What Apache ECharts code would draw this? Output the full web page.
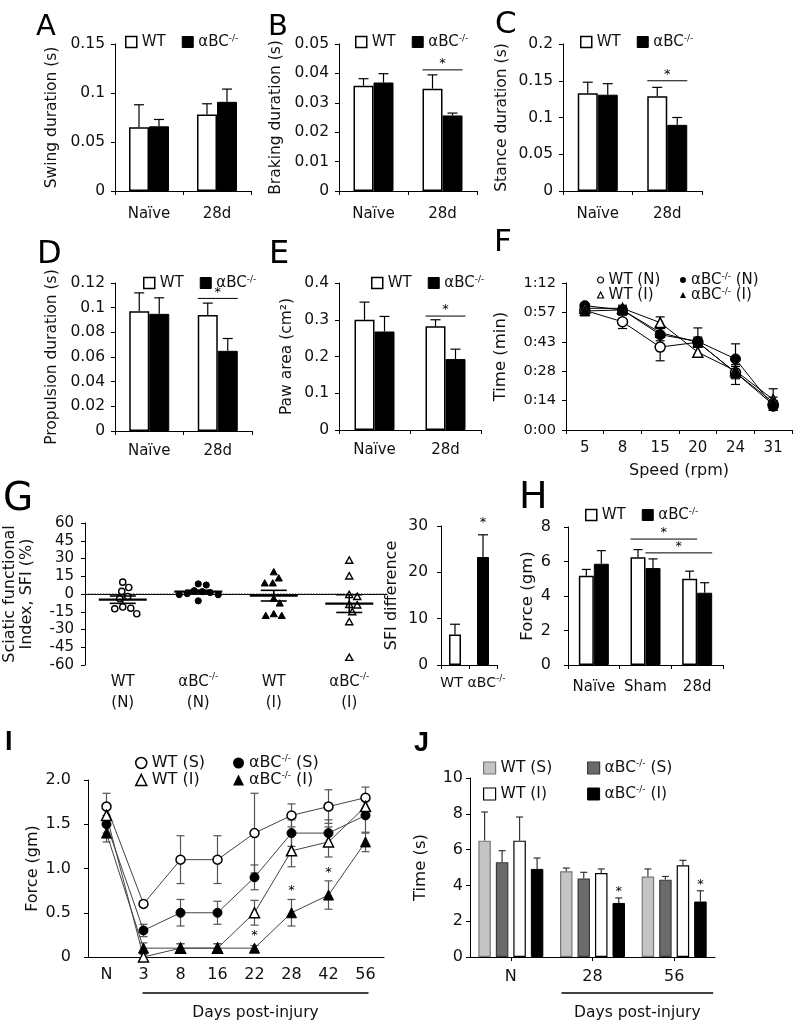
<!DOCTYPE html>
<html><head><meta charset="utf-8">
<script src="https://cdn.jsdelivr.net/npm/echarts@6/dist/echarts.min.js"></script>
<style>html,body{margin:0;padding:0;background:#fff}#c{width:793px;height:1024px}</style>
</head><body><div id="c"></div>
<script>
// ================= DATA =================
const gaitCats = ['Naïve', '28d'];
// A  swing duration (s)
const swingWT = [0.065, 0.078], swingWTErr = [0.023, 0.011];
const swingKO = [0.066, 0.091], swingKOErr = [0.007, 0.013];
const swingTicks = ['0', '0.05', '0.1', '0.15'];
// B  braking duration (s)
const brakeWT = [0.0358, 0.0348], brakeWTErr = [0.0024, 0.0047];
const brakeKO = [0.0369, 0.0257], brakeKOErr = [0.0030, 0.0008];
const brakeSig = [[1, 0, 1, 1, 0.0412]];
const brakeTicks = ['0', '0.01', '0.02', '0.03', '0.04', '0.05'];
// C  stance duration (s)
const stanceWT = [0.133, 0.129], stanceWTErr = [0.015, 0.012];
const stanceKO = [0.131, 0.090], stanceKOErr = [0.015, 0.010];
const stanceSig = [[1, 0, 1, 1, 0.150]];
const stanceTicks = ['0', '0.05', '0.1', '0.15', '0.2'];
// D  propulsion duration (s)
const propWT = [0.097, 0.094], propWTErr = [0.015, 0.0097];
const propKO = [0.095, 0.065], propKOErr = [0.013, 0.010];
const propSig = [[1, 0, 1, 1, 0.1075]];
const propTicks = ['0', '0.02', '0.04', '0.06', '0.08', '0.1', '0.12'];
// E  paw area (cm2)
const pawWT = [0.300, 0.282], pawWTErr = [0.048, 0.018];
const pawKO = [0.268, 0.193], pawKOErr = [0.041, 0.027];
const pawSig = [[1, 0, 1, 1, 0.31]];
const pawTicks = ['0', '0.1', '0.2', '0.3', '0.4'];
// F  rotarod time (seconds) vs speed
const speedCats = ['5', '8', '15', '20', '24', '31'];
const rodWTN = [58.6, 53.0, 40.6, 43.0, 28.1, 12.4], rodWTNErr = [1.5, 3.3, 6.7, 2.0, 3.0, 2.0];
const rodKON = [60.9, 58.8, 46.7, 43.4, 34.8, 11.6], rodKONErr = [1.0, 1.5, 3.0, 6.6, 7.4, 2.0];
const rodWTI = [59.6, 59.6, 52.6, 38.1, 29.0, 14.9], rodWTIErr = [1.0, 1.5, 2.8, 2.5, 3.0, 5.3];
const rodKOI = [58.3, 58.8, 47.7, 43.0, 28.1, 13.6], rodKOIErr = [1.0, 1.5, 2.0, 2.5, 5.8, 2.5];
const timeTicks = ['0:00', '0:14', '0:28', '0:43', '0:57', '1:12'];
// G  sciatic functional index
const sfiCats = ['WT\n(N)', 'αBC-/-\n(N)', 'WT\n(I)', 'αBC-/-\n(I)'];
const sfiWTN = [10.0, 5.5, 2.2, -2.2, -4.0, -12.0, -16.7, -12.5, -11.0];
const sfiKON = [8.5, 7.6, 2.0, 2.8, 1.2, 0.3, -0.5, -0.6, -5.8];
const sfiWTI = [18.4, 13.2, 9.0, 9.0, -4.0, -8.0, -17.0, -18.5, -18.5];
const sfiKOI = [28.2, 14.9, -0.8, -2.4, -9.2, -9.6, -15.3, -23.7, -53.9];
const sfiMean = [-4.8, 2.0, -1.4, -8.1];
const sfiSem = [3.1, 1.2, 4.5, 7.5];
const sfiTicks = ['-60', '-45', '-30', '-15', '0', '15', '30', '45', '60'];
const sfiDiffCats = ['WT', 'αBC-/-'];
const sfiDiff = [6.6, 23.3], sfiDiffErr = [2.2, 4.8];
const sfiDiffStar = [[1, 0, 28.1]];
const sfiDiffTicks = ['0', '10', '20', '30'];
// H  force (gm)
const forceCats = ['Naïve', 'Sham', '28d'];
const forceWT = [5.17, 6.25, 5.0], forceWTErr = [0.37, 0.44, 0.44];
const forceKO = [5.87, 5.62, 4.19], forceKOErr = [0.76, 0.53, 0.58];
const forceSig = [[1, 0, 2, 0, 7.3], [1, 1, 2, 1, 6.5]];
const forceTicks = ['0', '2', '4', '6', '8'];
// I  von Frey force (gm) over days
const dayCats = ['N', '3', '8', '16', '22', '28', '42', '56'];
const vfWTS = [1.7, 0.6, 1.1, 1.1, 1.4, 1.6, 1.7, 1.8], vfWTSErr = [0.15, 0.03, 0.27, 0.27, 0.45, 0.13, 0.19, 0.12];
const vfKOS = [1.5, 0.3, 0.5, 0.5, 0.9, 1.4, 1.4, 1.6], vfKOSErr = [0.1, 0.07, 0.15, 0.13, 0.14, 0.15, 0.15, 0.2];
const vfWTI = [1.6, 0.0, 0.1, 0.1, 0.5, 1.2, 1.3, 1.7], vfWTIErr = [0.1, 0.03, 0.05, 0.05, 0.14, 0.18, 0.17, 0.1];
const vfKOI = [1.4, 0.1, 0.1, 0.1, 0.1, 0.5, 0.7, 1.3], vfKOIErr = [0.1, 0.06, 0.05, 0.05, 0.03, 0.15, 0.16, 0.11];
const vfStars = [[4, 0.28], [5, 0.78], [6, 0.99]];
const vfTicks = ['0', '0.5', '1.0', '1.5', '2.0'];
const vfInjury = ['3', '56'];
// J  time (s)
const grpCats = ['N', '28', '56'];
const ttWTS = [6.5, 4.79, 4.5], ttWTSErr = [1.6, 0.18, 0.42];
const ttKOS = [5.3, 4.38, 4.32], ttKOSErr = [0.64, 0.35, 0.18];
const ttWTI = [6.5, 4.69, 5.12], ttWTIErr = [1.32, 0.23, 0.28];
const ttKOI = [4.92, 3.02, 3.1], ttKOIErr = [0.61, 0.28, 0.6];
const ttStars = [[1, 3, 3.3], [2, 3, 3.7]];
const ttTicks = ['0', '2', '4', '6', '8', '10'];
const ttInjury = ['28', '56'];

// ================= HELPERS =================
const FONT = 'DejaVu Sans';
const INK = '#111';
const SUP = { s: { fontSize: 9, verticalAlign: 'top', lineHeight: 9, fontFamily: FONT } };
const fmtKO = s => String(s).split('-/-').join('{s|-/-}');

function yAx(gi, min, max, interval, ticks, name, nameGap, o) {
  o = o || {};
  const fs = o.fs || 15.5;
  return {
    type: 'value', gridIndex: gi, min, max, interval,
    axisLine: { show: true, lineStyle: { color: '#000', width: 1 } },
    axisTick: { show: true, length: 4, lineStyle: { color: '#000', width: 1 } },
    splitLine: { show: false },
    axisLabel: {
      fontFamily: FONT, fontSize: fs, color: INK, margin: o.margin || 9,
      formatter: (v, i) => (ticks[i] !== undefined ? ticks[i] : String(v))
    },
    name, nameLocation: 'middle', nameGap, nameRotate: 90,
    nameTextStyle: { fontFamily: FONT, fontSize: o.nfs || 15.5, color: INK, lineHeight: o.nlh || 18, align: 'center' }
  };
}
function xAx(gi, data, o) {
  o = o || {};
  return {
    type: 'category', gridIndex: gi, data,
    axisLine: { show: true, lineStyle: { color: '#000', width: 1 } },
    axisTick: o.tick === false ? { show: false } : { show: true, length: 4, alignWithLabel: !!o.align, lineStyle: { color: '#000' } },
    splitLine: { show: false },
    axisLabel: { interval: 0, fontFamily: FONT, fontSize: o.fs || 15, color: INK, margin: o.margin || 12,
      lineHeight: o.lh || 18, formatter: o.formatter || fmtKO, rich: Object.assign({ p: { width: 7 } }, SUP) },
    name: o.name || '', nameLocation: 'middle', nameGap: o.nameGap || 30,
    nameTextStyle: { fontFamily: FONT, fontSize: o.nfs || 16, color: INK }
  };
}
function errSeries(gi, vals, errs, offset, cap, color, both) {
  return {
    type: 'custom', xAxisIndex: gi, yAxisIndex: gi, silent: true, clip: false, z: 4,
    encode: { x: 0, y: 1 },
    data: vals.map((v, i) => [i, both ? v - errs[i] : v, v + errs[i]]),
    renderItem: (p, api) => {
      const a = api.coord([api.value(0), api.value(1)]);
      const b = api.coord([api.value(0), api.value(2)]);
      const x = a[0] + offset;
      const st = () => ({ stroke: color, lineWidth: 1.2 });
      const ch = [
        { type: 'line', shape: { x1: x, y1: a[1], x2: x, y2: b[1] }, style: st() },
        { type: 'line', shape: { x1: x - cap / 2, y1: b[1], x2: x + cap / 2, y2: b[1] }, style: st() }
      ];
      if (both) ch.push({ type: 'line', shape: { x1: x - cap / 2, y1: a[1], x2: x + cap / 2, y2: a[1] }, style: st() });
      return { type: 'group', children: ch };
    }
  };
}
function sigSeries(gi, data, offsets, bw) {
  return {
    type: 'custom', xAxisIndex: gi, yAxisIndex: gi, silent: true, clip: false, z: 6,
    encode: { x: 0, y: 4 }, data,
    renderItem: (p, api) => {
      const y = api.value(4);
      const a = api.coord([api.value(0), y]);
      const b = api.coord([api.value(2), y]);
      const x1 = a[0] + offsets[api.value(1)] - bw / 2;
      const x2 = b[0] + offsets[api.value(3)] + bw / 2;
      return { type: 'group', children: [
        { type: 'line', shape: { x1, y1: a[1], x2, y2: a[1] }, style: { stroke: '#000', lineWidth: 1 } },
        { type: 'text', x: (x1 + x2) / 2, y: a[1] - 6, style: { text: '*', fontFamily: FONT, fontSize: 13, fill: '#000', align: 'center', verticalAlign: 'middle' } }
      ] };
    }
  };
}
function starSeries(gi, data, offsets, gap) {
  return {
    type: 'custom', xAxisIndex: gi, yAxisIndex: gi, silent: true, clip: false, z: 6,
    encode: { x: 0, y: 2 }, data,
    renderItem: (p, api) => {
      const c = api.coord([api.value(0), api.value(2)]);
      return { type: 'text', x: c[0] + offsets[api.value(1)], y: c[1] - gap,
        style: { text: '*', fontFamily: FONT, fontSize: 13, fill: '#000', align: 'center', verticalAlign: 'middle' } };
    }
  };
}
function barPair(gi, wt, wtErr, ko, koErr, bw, cap) {
  return [
    { type: 'bar', name: 'WT', xAxisIndex: gi, yAxisIndex: gi, data: wt, barWidth: bw, barGap: '0%',
      itemStyle: { color: '#fff', borderColor: '#000', borderWidth: 1.5 } },
    { type: 'bar', name: 'αBC-/-', xAxisIndex: gi, yAxisIndex: gi, data: ko, barWidth: bw, barGap: '0%',
      itemStyle: { color: '#000', borderColor: '#000', borderWidth: 1 } },
    errSeries(gi, wt, wtErr, -bw / 2, cap, '#000', false),
    errSeries(gi, ko, koErr, bw / 2, cap, '#000', false)
  ];
}
function koLegend(left, top) {
  return {
    left, top, orient: 'horizontal', itemWidth: 11, itemHeight: 11, itemGap: 16, selectedMode: false, padding: 0,
    data: [
      { name: 'WT', icon: 'rect', itemStyle: { color: '#fff', borderColor: '#000', borderWidth: 1.5 } },
      { name: 'αBC-/-', icon: 'rect', itemStyle: { color: '#000', borderColor: '#000', borderWidth: 1 } }
    ],
    textStyle: { fontFamily: FONT, fontSize: 15, color: INK, lineHeight: 16, rich: SUP },
    formatter: fmtKO
  };
}
function colLegend(left, top, items, size, gap, fs, lh) {
  return {
    left, top, orient: 'vertical', itemWidth: size, itemHeight: size, itemGap: gap, selectedMode: false, padding: 0,
    data: items, textStyle: { fontFamily: FONT, fontSize: fs, color: INK, lineHeight: lh, rich: SUP },
    formatter: fmtKO
  };
}
const openSt = { color: '#fff', borderColor: '#000', borderWidth: 1.5 };
const fillSt = { color: '#000', borderColor: '#000', borderWidth: 1 };
function lineSeries(gi, name, vals, symbol, size, open, lineColor) {
  return { type: 'line', name, xAxisIndex: gi, yAxisIndex: gi, data: vals, symbol, symbolSize: size,
    showAllSymbol: true, clip: false, z: 5,
    lineStyle: { color: lineColor, width: 1 }, itemStyle: open ? openSt : fillSt };
}
function swarmOffsets(vals, pxPerUnit, d) {
  const order = vals.map((v, i) => i).sort((a, b) => vals[b] - vals[a]);
  const placed = [], off = [];
  order.forEach(i => {
    const y = vals[i] * pxPerUnit;
    for (let k = 0; k < 400; k++) {
      const dx = (k % 2 ? 1 : -1) * Math.ceil(k / 2);
      if (placed.every(q => (q[0] - dx) * (q[0] - dx) + (q[1] - y) * (q[1] - y) >= d * d)) {
        off[i] = dx; placed.push([dx, y]); break;
      }
    }
  });
  return off;
}
function dotSeries(gi, group, vals, shape, filled) {
  const off = swarmOffsets(vals, 142 / 120, 7.5);
  return {
    type: 'custom', xAxisIndex: gi, yAxisIndex: gi, silent: true, clip: false, z: 5,
    encode: { x: 0, y: 1 },
    data: vals.map((v, i) => [group, v, off[i]]),
    renderItem: (p, api) => {
      const c = api.coord([api.value(0), api.value(1)]);
      const x = c[0] + api.value(2), y = c[1], r = 3.1;
      const style = filled ? { fill: '#000', stroke: '#000', lineWidth: 1 } : { fill: '#fff', stroke: '#000', lineWidth: 1.4 };
      if (shape === 'circle') return { type: 'circle', shape: { cx: x, cy: y, r }, style };
      return { type: 'polygon', shape: { points: [[x, y - r * 1.2], [x + r * 1.15, y + r * 0.85], [x - r * 1.15, y + r * 0.85]] }, style };
    }
  };
}
function daysSeries(gi, cats, range, extL, extR) {
  return {
    type: 'custom', xAxisIndex: gi, yAxisIndex: gi, silent: true, clip: false, z: 6,
    encode: { x: [0, 1] },
    data: [[cats.indexOf(range[0]), cats.indexOf(range[1])]],
    renderItem: (p, api) => {
      const a = api.coord([api.value(0), 0]), b = api.coord([api.value(1), 0]);
      const y = a[1] + 36, x1 = a[0] - extL, x2 = b[0] + extR;
      return { type: 'group', children: [
        { type: 'line', shape: { x1, y1: y, x2, y2: y }, style: { stroke: '#000', lineWidth: 1.5 } },
        { type: 'text', x: (x1 + x2) / 2, y: y + 20, style: { text: 'Days post-injury', fontFamily: FONT, fontSize: 15.5, fill: INK, align: 'center', verticalAlign: 'middle' } }
      ] };
    }
  };
}

// ================= LAYOUT =================
const grids = [
  { left: 115, top: 44, width: 136, height: 147 },   // 0 A
  { left: 339, top: 44, width: 138, height: 147 },   // 1 B
  { left: 563, top: 44, width: 139, height: 147 },   // 2 C
  { left: 115, top: 283, width: 137, height: 148 },  // 3 D
  { left: 339, top: 283, width: 142, height: 147 },  // 4 E
  { left: 566, top: 283, width: 226, height: 147 },  // 5 F
  { left: 85, top: 523, width: 302, height: 142 },   // 6 G scatter
  { left: 441, top: 526, width: 56, height: 139 },   // 7 G bar
  { left: 568, top: 527, width: 155, height: 138 },  // 8 H
  { left: 88, top: 780, width: 296, height: 177 },   // 9 I
  { left: 470, top: 778, width: 245, height: 179 }   // 10 J
].map(g => Object.assign({ outerBoundsMode: 'none', containLabel: false }, g));

const letters = [
  ['A', 36, 13, 29, 'normal'], ['B', 268, 13, 29, 'normal'], ['C', 495, 9, 31, 'normal'],
  ['D', 37, 239, 32, 'normal'], ['E', 269, 239, 32, 'normal'], ['F', 494, 227, 31, 'normal'],
  ['G', 3, 480, 39, 'normal'], ['H', 519, 479, 38, 'normal'],
  ['I', 5, 729, 27, 'bold'], ['J', 414, 730, 27, 'bold']
];

const xAxes = [
  xAx(0, gaitCats, { margin: 14 }),
  xAx(1, gaitCats, { margin: 14 }),
  xAx(2, gaitCats, { margin: 14 }),
  xAx(3, gaitCats, { margin: 11 }),
  xAx(4, gaitCats, { margin: 11 }),
  xAx(5, speedCats, { margin: 9, name: 'Speed (rpm)', nameGap: 33, nfs: 16 }),
  xAx(6, sfiCats, { margin: 7, tick: false, lh: 21 }),
  xAx(7, sfiDiffCats, { margin: 9, fs: 14, formatter: (v, i) => (i === 0 ? v + '{p| }' : '{p| }' + fmtKO(v)) }),
  xAx(8, forceCats, { margin: 13 }),
  xAx(9, dayCats, { margin: 9, tick: false, fs: 16 }),
  xAx(10, grpCats, { margin: 11, fs: 16, align: true })
];
const yAxes = [
  yAx(0, 0, 0.15, 0.05, swingTicks, 'Swing duration (s)', 54, { margin: 10 }),
  yAx(1, 0, 0.05, 0.01, brakeTicks, 'Braking duration (s)', 54, { margin: 10 }),
  yAx(2, 0, 0.2, 0.05, stanceTicks, 'Stance duration (s)', 52, { margin: 10 }),
  yAx(3, 0, 0.12, 0.02, propTicks, 'Propulsion duration (s)', 54, { margin: 10 }),
  yAx(4, 0, 0.4, 0.1, pawTicks, 'Paw area (cm²)', 43, { margin: 10 }),
  yAx(5, 0, 72, 14.4, timeTicks, 'Time (min)', 56, { margin: 10, fs: 14.5, nfs: 16.5 }),
  yAx(6, -60, 60, 15, sfiTicks, 'Sciatic functional\nIndex, SFI (%)', 50, { margin: 11, fs: 15, nfs: 16, nlh: 17 }),
  yAx(7, 0, 30, 10, sfiDiffTicks, 'SFI difference', 40, { margin: 13, nfs: 16 }),
  yAx(8, 0, 8, 2, forceTicks, 'Force (gm)', 28, { margin: 17, fs: 16, nfs: 16.5 }),
  yAx(9, 0, 2, 0.5, vfTicks, 'Force (gm)', 45, { margin: 17, fs: 16, nfs: 16 }),
  yAx(10, 0, 10, 2, ttTicks, 'Time (s)', 40, { margin: 7, fs: 16, nfs: 16.5 })
];

const legends = [
  koLegend(125, 34), koLegend(355, 34), koLegend(580, 34),
  koLegend(143, 275), koLegend(371, 275), koLegend(585, 507),
  colLegend(597, 272.5, [
    { name: 'WT (N)', icon: 'circle', itemStyle: { color: '#fff', borderColor: '#000', borderWidth: 1.2 } },
    { name: 'WT (I)', icon: 'triangle', itemStyle: { color: '#fff', borderColor: '#000', borderWidth: 1.2 } }
  ], 6, 0, 15, 15),
  colLegend(680, 272.5, [
    { name: 'αBC-/- (N)', icon: 'circle', itemStyle: { color: '#000', borderWidth: 0 } },
    { name: 'αBC-/- (I)', icon: 'triangle', itemStyle: { color: '#000', borderWidth: 0 } }
  ], 6, 0, 15, 15),
  colLegend(135, 754.5, [
    { name: 'WT (S)', icon: 'circle', itemStyle: { color: '#fff', borderColor: '#000', borderWidth: 1.5 } },
    { name: 'WT (I)', icon: 'triangle', itemStyle: { color: '#fff', borderColor: '#000', borderWidth: 1.5 } }
  ], 11, 0, 16, 17),
  colLegend(233, 754.5, [
    { name: 'αBC-/- (S)', icon: 'circle', itemStyle: { color: '#000', borderWidth: 0 } },
    { name: 'αBC-/- (I)', icon: 'triangle', itemStyle: { color: '#000', borderWidth: 0 } }
  ], 11, 0, 16, 17),
  colLegend(483, 759.5, [
    { name: 'WT (S)', icon: 'rect', itemStyle: { color: '#c4c4c4', borderColor: '#777', borderWidth: 1.2 } },
    { name: 'WT (I)', icon: 'rect', itemStyle: { color: '#fff', borderColor: '#000', borderWidth: 1.2 } }
  ], 12, 9, 15.5, 17),
  colLegend(587, 759.5, [
    { name: 'αBC-/- (S)', icon: 'rect', itemStyle: { color: '#6b6b6b', borderColor: '#3a3a3a', borderWidth: 1.2 } },
    { name: 'αBC-/- (I)', icon: 'rect', itemStyle: { color: '#000', borderColor: '#000', borderWidth: 1 } }
  ], 12, 9, 15.5, 17)
];

// ================= SERIES =================
const series = [];
series.push(...barPair(0, swingWT, swingWTErr, swingKO, swingKOErr, 20, 10));
series.push(...barPair(1, brakeWT, brakeWTErr, brakeKO, brakeKOErr, 20, 10), sigSeries(1, brakeSig, [-10, 10], 20));
series.push(...barPair(2, stanceWT, stanceWTErr, stanceKO, stanceKOErr, 20, 10), sigSeries(2, stanceSig, [-10, 10], 20));
series.push(...barPair(3, propWT, propWTErr, propKO, propKOErr, 20, 10), sigSeries(3, propSig, [-10, 10], 20));
series.push(...barPair(4, pawWT, pawWTErr, pawKO, pawKOErr, 20, 10), sigSeries(4, pawSig, [-10, 10], 20));
// F
[[rodWTN, rodWTNErr], [rodKON, rodKONErr], [rodWTI, rodWTIErr], [rodKOI, rodKOIErr]].forEach(d =>
  series.push(errSeries(5, d[0], d[1], 0, 9, '#000', true)));
series.push(
  lineSeries(5, 'WT (N)', rodWTN, 'circle', 10, true, '#000'),
  lineSeries(5, 'αBC-/- (N)', rodKON, 'circle', 10, false, '#000'),
  lineSeries(5, 'WT (I)', rodWTI, 'triangle', 10, true, '#000'),
  lineSeries(5, 'αBC-/- (I)', rodKOI, 'triangle', 10, false, '#000')
);
// G scatter
series.push({
  type: 'custom', xAxisIndex: 6, yAxisIndex: 6, silent: true, clip: false, z: 2, encode: { x: 0, y: 1 },
  data: [[0, 0]],
  renderItem: (p, api) => {
    const cs = p.coordSys, y = api.coord([0, 0])[1];
    return { type: 'line', shape: { x1: cs.x, y1: y, x2: cs.x + cs.width, y2: y },
      style: { stroke: '#333', lineWidth: 1, lineDash: [1.5, 1.5] } };
  }
});
series.push(
  dotSeries(6, 0, sfiWTN, 'circle', false),
  dotSeries(6, 1, sfiKON, 'circle', true),
  dotSeries(6, 2, sfiWTI, 'triangle', true),
  dotSeries(6, 3, sfiKOI, 'triangle', false)
);
series.push({
  type: 'custom', xAxisIndex: 6, yAxisIndex: 6, silent: true, clip: false, z: 6, encode: { x: 0, y: 1 },
  data: sfiMean.map((m, i) => [i, m, sfiSem[i]]),
  renderItem: (p, api) => {
    const g = api.value(0), m = api.value(1), s = api.value(2);
    const c = api.coord([g, m]), t = api.coord([g, m + s]), b = api.coord([g, m - s]);
    const x = c[0];
    return { type: 'group', children: [
      { type: 'line', shape: { x1: x - 24, y1: c[1], x2: x + 24, y2: c[1] }, style: { stroke: '#000', lineWidth: 2.2 } },
      { type: 'line', shape: { x1: x - 13, y1: t[1], x2: x + 13, y2: t[1] }, style: { stroke: '#000', lineWidth: 1.6 } },
      { type: 'line', shape: { x1: x - 13, y1: b[1], x2: x + 13, y2: b[1] }, style: { stroke: '#000', lineWidth: 1.6 } },
      { type: 'line', shape: { x1: x, y1: t[1], x2: x, y2: b[1] }, style: { stroke: '#000', lineWidth: 1.6 } }
    ] };
  }
});
// G bar
series.push({
  type: 'bar', xAxisIndex: 7, yAxisIndex: 7, barWidth: 12,
  data: sfiDiff.map((v, i) => ({ value: v, itemStyle: i === 0 ? { color: '#fff', borderColor: '#000', borderWidth: 1.5 } : { color: '#000', borderColor: '#000', borderWidth: 1 } }))
});
series.push(
  errSeries(7, sfiDiff, sfiDiffErr, 0, 10, '#000', false),
  starSeries(7, sfiDiffStar, [0], 12)
);
// H
series.push(...barPair(8, forceWT, forceWTErr, forceKO, forceKOErr, 15, 9), sigSeries(8, forceSig, [-7.5, 7.5], 15));
// I
[[vfWTS, vfWTSErr], [vfKOS, vfKOSErr], [vfWTI, vfWTIErr], [vfKOI, vfKOIErr]].forEach(d =>
  series.push(errSeries(9, d[0], d[1], 0, 8, '#555', true)));
series.push(
  lineSeries(9, 'WT (S)', vfWTS, 'circle', 9, true, '#444'),
  lineSeries(9, 'αBC-/- (S)', vfKOS, 'circle', 9, false, '#444'),
  lineSeries(9, 'WT (I)', vfWTI, 'triangle', 10, true, '#444'),
  lineSeries(9, 'αBC-/- (I)', vfKOI, 'triangle', 10, false, '#444'),
  starSeries(9, vfStars.map(s => [s[0], 0, s[1]]), [0], -3),
  daysSeries(9, dayCats, vfInjury, 1, 3)
);
// J
const jOff = [-26.25, -8.75, 8.75, 26.25];
const jStyles = [
  { color: '#c4c4c4', borderColor: '#777', borderWidth: 1.2 },
  { color: '#6b6b6b', borderColor: '#3a3a3a', borderWidth: 1.2 },
  { color: '#fff', borderColor: '#000', borderWidth: 1.2 },
  { color: '#000', borderColor: '#000', borderWidth: 1 }
];
[['WT (S)', ttWTS, ttWTSErr], ['αBC-/- (S)', ttKOS, ttKOSErr], ['WT (I)', ttWTI, ttWTIErr], ['αBC-/- (I)', ttKOI, ttKOIErr]].forEach((d, k) => {
  series.push({ type: 'bar', name: d[0], xAxisIndex: 10, yAxisIndex: 10, data: d[1], barWidth: 12.5, barGap: '40%', itemStyle: jStyles[k] });
});
[[ttWTS, ttWTSErr], [ttKOS, ttKOSErr], [ttWTI, ttWTIErr], [ttKOI, ttKOIErr]].forEach((d, k) =>
  series.push(errSeries(10, d[0], d[1], jOff[k], 7, '#333', false)));
series.push(starSeries(10, ttStars, jOff, 6), daysSeries(10, grpCats, ttInjury, 31, 39));

// ================= CHART =================
const chart = echarts.init(document.getElementById('c'), null, { renderer: 'canvas' });
chart.setOption({
  animation: false,
  backgroundColor: '#fff',
  textStyle: { fontFamily: FONT, color: INK },
  title: letters.map(l => ({ text: l[0], left: l[1], top: l[2], padding: 0,
    textStyle: { fontFamily: l[4] === 'bold' ? 'Liberation Sans' : FONT, fontSize: l[3], fontWeight: l[4], color: '#000' } })),
  grid: grids,
  xAxis: xAxes,
  yAxis: yAxes,
  legend: legends,
  series
});
</script></body></html>
